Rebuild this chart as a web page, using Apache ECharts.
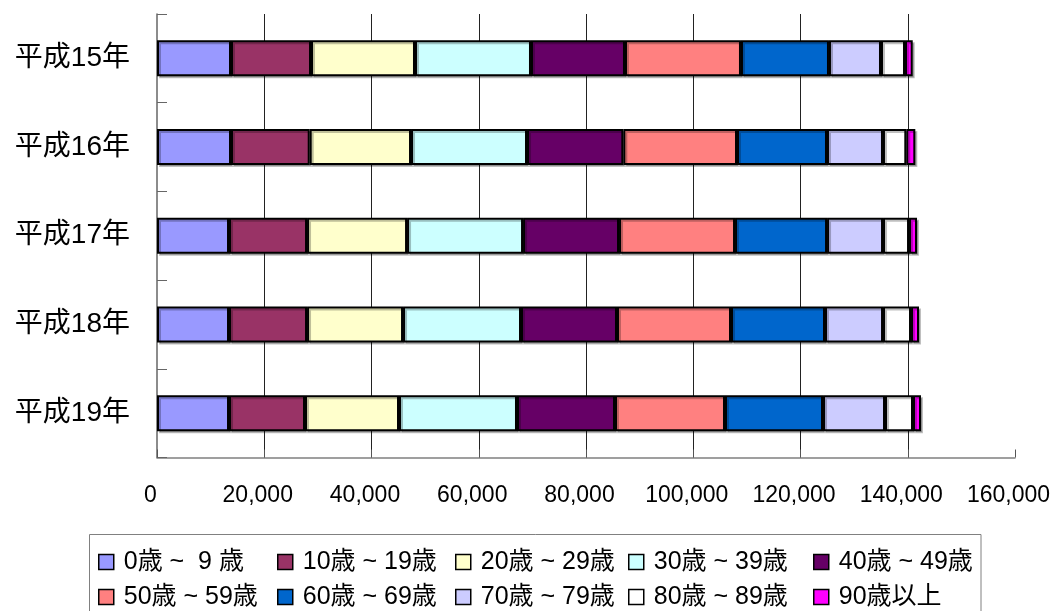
<!DOCTYPE html>
<html>
<head>
<meta charset="utf-8">
<script src="https://cdn.jsdelivr.net/npm/echarts@6/dist/echarts.min.js"></script>
<style>
html,body{margin:0;padding:0;background:#fff;}
#chart{width:1056px;height:611px;}
</style>
</head>
<body>
<div id="chart"></div>
<script>
// ---- data ----
const years = ['平成15年', '平成16年', '平成17年', '平成18年', '平成19年'];
const ageNames = ['0歳 ~  9 歳', '10歳 ~ 19歳', '20歳 ~ 29歳', '30歳 ~ 39歳', '40歳 ~ 49歳',
                  '50歳 ~ 59歳', '60歳 ~ 69歳', '70歳 ~ 79歳', '80歳 ~ 89歳', '90歳以上'];
const age0_9   = [13800, 13800, 13430, 13430, 13430];
const age10_19 = [14920, 14680, 14550, 14550, 14170];
const age20_29 = [19390, 18890, 18650, 17900, 17530];
const age30_39 = [21630, 21630, 21630, 22000, 22000];
const age40_49 = [17530, 17960, 17900, 17900, 18280];
const age50_59 = [21630, 21200, 21630, 21260, 20510];
const age60_69 = [16410, 16780, 17160, 17530, 18280];
const age70_79 = [9700, 10440, 10440, 10820, 11560];
const age80_89 = [4480, 4350, 4850, 5220, 5220];
const age90up  = [1440, 1680, 1490, 1490, 1490];
const xTicks = [0, 20000, 40000, 60000, 80000, 100000, 120000, 140000, 160000];

// ---- styles ----
const seriesData = [age0_9, age10_19, age20_29, age30_39, age40_49, age50_59, age60_69, age70_79, age80_89, age90up];
const colors = ['#9999FF', '#993366', '#FFFFCC', '#CCFFFF', '#660066', '#FF8080', '#0066CC', '#CCCCFF', '#FFFFFF', '#FF00FF'];
const legendCols = [98, 277, 455, 628, 813];
const legendRowsTop = [548, 583];
const FONT = "'Liberation Sans', Arial, 'Noto Sans CJK JP', sans-serif";

const chart = echarts.init(document.getElementById('chart'), null, {renderer: 'canvas'});

const series = seriesData.map((d, i) => ({
  name: ageNames[i],
  type: 'bar',
  stack: 'total',
  data: d,
  barWidth: 36,
  itemStyle: {
    color: colors[i],
    borderColor: '#000',
    borderWidth: 2,
    shadowColor: 'rgba(0,0,0,0.25)',
    shadowOffsetX: 2,
    shadowOffsetY: 2,
    shadowBlur: 0
  },
  emphasis: {disabled: true},
  animation: false
}));

const legends = ageNames.map((n, i) => ({
  data: [n],
  left: legendCols[i % 5],
  top: legendRowsTop[Math.floor(i / 5)],
  padding: 0,
  itemWidth: 15,
  itemHeight: 15,
  icon: 'rect',
  itemStyle: {borderColor: '#000', borderWidth: 1.5, shadowBlur: 0, shadowOffsetX: 0, shadowOffsetY: 0},
  textStyle: {fontFamily: FONT, fontSize: 25, color: '#000', padding: [0, 0, 0, 5], lineHeight: 28},
  selectedMode: false
}));

chart.setOption({
  animation: false,
  backgroundColor: '#fff',
  grid: {left: 157, top: 14, width: 858, height: 443.5, containLabel: false},
  xAxis: {
    type: 'value',
    min: xTicks[0],
    max: xTicks[xTicks.length - 1],
    interval: xTicks[1] - xTicks[0],
    axisLine: {show: true, lineStyle: {color: '#808080', width: 1.5}},
    axisTick: {show: true, inside: true, length: 8, lineStyle: {color: '#555', width: 1}},
    splitLine: {show: true, showMinLine: false, showMaxLine: false, lineStyle: {color: '#222', width: 1}},
    axisLabel: {
      fontFamily: FONT, fontSize: 23, color: '#000', margin: 27,
      padding: [0, 13, 0, 0],
      formatter: v => v.toLocaleString('en-US')
    }
  },
  yAxis: {
    type: 'category',
    data: years,
    inverse: true,
    axisLine: {show: true, lineStyle: {color: '#666', width: 1.5}},
    axisTick: {show: true, inside: true, length: 10, lineStyle: {color: '#666', width: 1}},
    splitLine: {show: false},
    axisLabel: {fontFamily: FONT, fontSize: 28, color: '#000', margin: 27}
  },
  legend: legends,
  graphic: [{
    type: 'rect',
    shape: {x: 89.5, y: 534.5, width: 891.5, height: 100},
    style: {fill: 'none', stroke: '#808080', lineWidth: 1},
    z: -1,
    silent: true
  }],
  series: series
});
</script>
</body>
</html>
